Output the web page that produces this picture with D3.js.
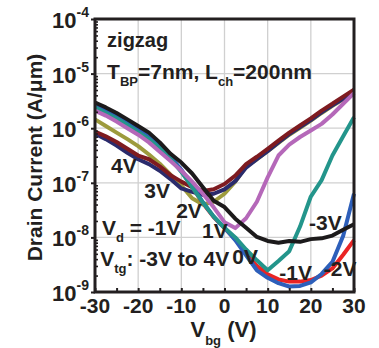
<!DOCTYPE html>
<html>
<head>
<meta charset="utf-8">
<script src="https://cdn.jsdelivr.net/npm/d3@7"></script>
<style>
body { margin: 0; background: #fff; }
text { font-family: 'Liberation Sans', Arial, sans-serif; font-weight: bold; fill: #231f20; }
</style>
</head>
<body>
<div id="chart"></div>
<script>
// back gate sweep (V)
var vbg = [-30, -27.5, -25, -22.5, -20, -17.5, -15, -12.5, -10, -7.5, -5, -2.5, 0,
  2.5, 5, 7.5, 10, 12.5, 15, 17.5, 20, 22.5, 25, 27.5, 30]

// drain current (A/um) for each top gate bias
var idM3 = [2.95e-6, 2.4e-6, 1.9e-6, 1.45e-6, 1.1e-6, 8.3e-7, 5.5e-7, 3.4e-7, 2.35e-7, 1.48e-7, 8.3e-8, 4.7e-8, 3.6e-8,
  2.2e-8, 1.5e-8, 1.02e-8, 8.6e-9, 8.0e-9, 8.6e-9, 8.3e-9, 9.3e-9, 9.6e-9, 1.08e-8, 1.38e-8, 1.74e-8]
var idM2 = [2.5e-6, 2.04e-6, 1.58e-6, 1.2e-6, 9.1e-7, 6.8e-7, 4.6e-7, 2.9e-7, 1.66e-7, 8.5e-8, 4.2e-8, 2.35e-8, 1.48e-8,
  9.3e-9, 5.2e-9, 3.0e-9, 2.1e-9, 1.7e-9, 1.55e-9, 1.55e-9, 1.66e-9, 2.0e-9, 2.7e-9, 4.8e-9, 8.9e-9]
var idM1 = [2.63e-6, 2.14e-6, 1.66e-6, 1.26e-6, 9.5e-7, 7.1e-7, 4.8e-7, 3.0e-7, 1.74e-7, 8.9e-8, 4.4e-8, 2.4e-8, 1.5e-8,
  8.9e-9, 4.7e-9, 2.5e-9, 1.82e-9, 1.45e-9, 1.26e-9, 1.29e-9, 1.5e-9, 2.14e-9, 3.55e-9, 1.07e-8, 6.3e-8]
var id0 = [2.4e-6, 1.9e-6, 1.51e-6, 1.15e-6, 8.5e-7, 6.3e-7, 4.3e-7, 2.75e-7, 1.58e-7, 8.3e-8, 4.3e-8, 2.4e-8, 1.5e-8,
  1.0e-8, 6.0e-9, 3.8e-9, 2.5e-9, 3.7e-9, 5.6e-9, 1.58e-8, 5.6e-8, 1.12e-7, 3.16e-7, 7.1e-7, 1.58e-6]
var id1 = [2.1e-6, 1.7e-6, 1.32e-6, 1.0e-6, 7.6e-7, 5.5e-7, 3.7e-7, 2.5e-7, 1.66e-7, 1.05e-7, 6.3e-8, 3.55e-8, 1.9e-8,
  1.48e-8, 2.24e-8, 4.5e-8, 1.26e-7, 3.16e-7, 5.0e-7, 6.9e-7, 9.1e-7, 1.2e-6, 1.78e-6, 2.8e-6, 4.4e-6]
var id2 = [1.45e-6, 1.1e-6, 8.3e-7, 6.3e-7, 4.7e-7, 3.3e-7, 2.24e-7, 1.41e-7, 8.9e-8, 5.2e-8, 4.0e-8, 4.5e-8, 6.3e-8,
  1.05e-7, 2.0e-7, 2.7e-7, 3.8e-7, 5.4e-7, 7.6e-7, 1.02e-6, 1.38e-6, 1.9e-6, 2.57e-6, 3.4e-6, 4.5e-6]
var id3 = [7.9e-7, 6.3e-7, 4.8e-7, 3.55e-7, 2.7e-7, 2.2e-7, 1.66e-7, 1.17e-7, 7.9e-8, 6.8e-8, 6.0e-8, 6.3e-8, 7.6e-8,
  1.07e-7, 1.9e-7, 2.7e-7, 3.8e-7, 5.5e-7, 7.8e-7, 1.05e-6, 1.41e-6, 1.95e-6, 2.63e-6, 3.47e-6, 4.57e-6]
var id4 = [8.7e-7, 7.1e-7, 5.6e-7, 4.2e-7, 3.16e-7, 2.7e-7, 2.0e-7, 1.38e-7, 1.05e-7, 8.3e-8, 7.1e-8, 7.6e-8, 9.5e-8,
  1.35e-7, 2.2e-7, 3.0e-7, 4.2e-7, 5.9e-7, 8.3e-7, 1.12e-6, 1.51e-6, 2.1e-6, 2.8e-6, 3.8e-6, 5.1e-6]

var vtgNames = ['-3V', '-2V', '-1V', '0V', '1V', '2V', '3V', '4V']
var vtgColors = ['#1c1a1b', '#ea2424', '#2d5fba', '#23958b', '#b568b9', '#9d9b3d', '#2a2b6c', '#7e1b20']
// curve label anchor (Vbg, Id)
var labelVbg = [19.6, 23.0, 12.7, 1.8, -5.2, -11.2, -18.6, -26.3]
var labelId = [1.38e-8, 2.0e-9, 1.66e-9, 3.2e-9, 9.8e-9, 2.3e-8, 5.2e-8, 1.5e-7]

var xTicks = [-30, -20, -10, 0, 10, 20, 30]
var xMinor = [-25, -15, -5, 5, 15, 25]
var yExps = [-4, -5, -6, -7, -8, -9]

var width = 379
var height = 348
var plotLeft = 95
var plotRight = 354
var plotTop = 19
var plotBottom = 292

var series = [idM3, idM2, idM1, id0, id1, id2, id3, id4]
var drawOrder = [5, 6, 7, 1, 2, 3, 4, 0]

var x = d3.scaleLinear().domain([-30, 30]).range([plotLeft, plotRight])
var y = d3.scaleLog().domain([1e-9, 1e-4]).range([plotBottom, plotTop])

var svg = d3.select('#chart').append('svg')
  .attr('width', width)
  .attr('height', height)

// grid
var grid = svg.append('g').attr('stroke', '#d0d0d0').attr('stroke-width', 1.3)
grid.selectAll('line.gx').data(xTicks.slice(1, -1)).enter().append('line')
  .attr('x1', d => x(d)).attr('x2', d => x(d))
  .attr('y1', plotTop).attr('y2', plotBottom)
grid.selectAll('line.gy').data(yExps.slice(1, -1)).enter().append('line')
  .attr('x1', plotLeft).attr('x2', plotRight)
  .attr('y1', d => y(Math.pow(10, d))).attr('y2', d => y(Math.pow(10, d)))

var line = d3.line()
  .x((d, i) => x(vbg[i]))
  .y(d => y(d))

svg.append('g').selectAll('path')
  .data(drawOrder)
  .enter().append('path')
  .attr('d', k => line(series[k]))
  .attr('fill', 'none')
  .attr('stroke', k => vtgColors[k])
  .attr('stroke-width', 4)
  .attr('stroke-linejoin', 'round')

// axes
var xAxis = d3.axisBottom(x).tickValues(xTicks.concat(xMinor)).tickSize(-4).tickFormat('')
svg.append('g')
  .attr('transform', 'translate(0,' + plotBottom + ')')
  .call(xAxis)
  .call(g => g.select('.domain').remove())
  .call(g => g.selectAll('line').attr('stroke', '#231f20').attr('stroke-width', 2))

var minorY = []
for (var e = -9; e < -4; e++) {
  for (var m = 2; m < 10; m++) minorY.push(m * Math.pow(10, e))
}
var yAxis = d3.axisLeft(y).tickValues(minorY).tickSize(-3).tickFormat('')
svg.append('g')
  .attr('transform', 'translate(' + plotLeft + ',0)')
  .call(yAxis)
  .call(g => g.select('.domain').remove())
  .call(g => g.selectAll('line').attr('stroke', '#231f20').attr('stroke-width', 1.6))

var yMajor = d3.axisLeft(y).tickValues(yExps.map(d => Math.pow(10, d))).tickSize(4).tickFormat('')
svg.append('g')
  .attr('transform', 'translate(' + plotLeft + ',0)')
  .call(yMajor)
  .call(g => g.select('.domain').remove())
  .call(g => g.selectAll('line').attr('stroke', '#231f20').attr('stroke-width', 2))

svg.append('rect')
  .attr('x', plotLeft).attr('y', plotTop)
  .attr('width', plotRight - plotLeft).attr('height', plotBottom - plotTop)
  .attr('fill', 'none').attr('stroke', '#231f20').attr('stroke-width', 3)

// tick labels
svg.append('g').selectAll('text')
  .data(xTicks)
  .enter().append('text')
  .attr('x', d => x(d))
  .attr('y', plotBottom + 21)
  .attr('text-anchor', 'middle')
  .style('font-size', '21px')
  .text(d => d)

var yl = svg.append('g').selectAll('text')
  .data(yExps)
  .enter().append('text')
  .attr('x', 89)
  .attr('y', d => y(Math.pow(10, d)) + 9)
  .attr('text-anchor', 'end')
  .style('font-size', '22px')
yl.append('tspan').text('10')
yl.append('tspan').attr('dy', -11).style('font-size', '14px').text(d => d)

// axis titles
svg.append('text')
  .attr('transform', 'translate(42,' + ((plotTop + plotBottom) / 2 + 2) + ') rotate(-90)')
  .attr('text-anchor', 'middle')
  .style('font-size', '21px')
  .text('Drain Current (A/\u03bcm)')

var xt = svg.append('text')
  .attr('x', x(0) - 1)
  .attr('y', 337)
  .attr('text-anchor', 'middle')
  .style('font-size', '22px')
xt.append('tspan').text('V')
xt.append('tspan').attr('dy', 8).style('font-size', '13px').text('bg')
xt.append('tspan').attr('dy', -8).text(' (V)')

// curve labels
svg.append('g').selectAll('text')
  .data(vtgNames)
  .enter().append('text')
  .attr('x', (d, i) => x(labelVbg[i]))
  .attr('y', (d, i) => y(labelId[i]))
  .style('font-size', '21px')
  .text(d => d)

// notes
var t1 = svg.append('text').attr('x', x(-27.2)).attr('y', y(3.1e-5)).style('font-size', '20px')
t1.text('zigzag')

var t2 = svg.append('text').attr('x', x(-27.2)).attr('y', y(8.0e-6)).style('font-size', '21px')
t2.append('tspan').text('T')
t2.append('tspan').attr('dy', 7).style('font-size', '13px').text('BP')
t2.append('tspan').attr('dy', -7).text('=7nm, L')
t2.append('tspan').attr('dy', 7).style('font-size', '13px').text('ch')
t2.append('tspan').attr('dy', -7).text('=200nm')

var t3 = svg.append('text').attr('x', x(-28.4)).attr('y', y(1.1e-8)).style('font-size', '21px')
t3.append('tspan').text('V')
t3.append('tspan').attr('dy', 7).style('font-size', '13px').text('d')
t3.append('tspan').attr('dy', -7).text(' = -1V')

var t4 = svg.append('text').attr('x', x(-28.8)).attr('y', y(3.0e-9)).style('font-size', '21px')
t4.append('tspan').text('V')
t4.append('tspan').attr('dy', 7).style('font-size', '13px').text('tg')
t4.append('tspan').attr('dy', -7).text(': -3V to 4V')
</script>
</body>
</html>
